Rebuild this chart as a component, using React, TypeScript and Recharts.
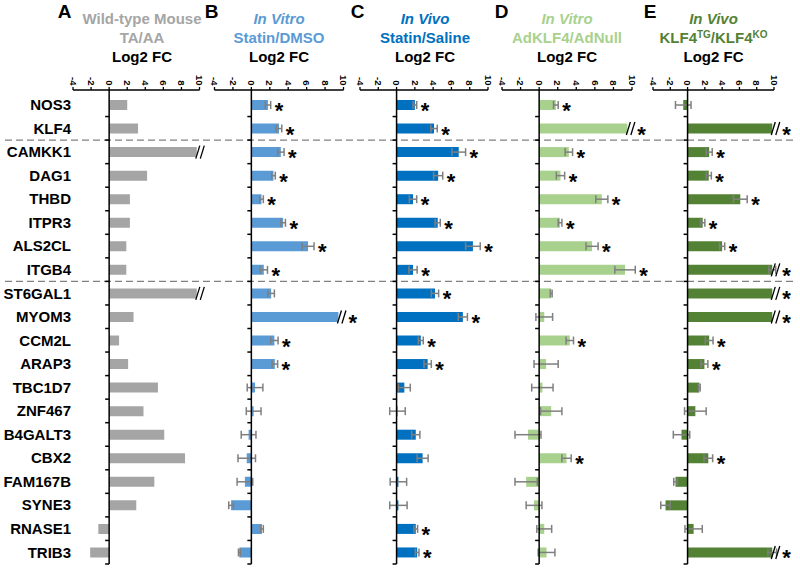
import React from "react";
import { Bar, BarChart, ErrorBar, LabelList, ReferenceLine, XAxis, YAxis } from "recharts";

const FONT = "'Liberation Sans', Arial, sans-serif";
const W = 800;
const H = 569;

const genes = [
  "NOS3", "KLF4", "CAMKK1", "DAG1", "THBD", "ITPR3", "ALS2CL", "ITGB4", "ST6GAL1", "MYOM3",
  "CCM2L", "ARAP3", "TBC1D7", "ZNF467", "B4GALT3", "CBX2", "FAM167B", "SYNE3", "RNASE1", "TRIB3",
];
const groupEnds = ["KLF4", "ITGB4"];
const xTicks = [-4, -2, 0, 2, 4, 6, 8, 10];

// A: wild-type mouse TA/AA
const valsA = [2.0, 3.2, 9.7, 4.2, 2.3, 2.3, 1.9, 1.9, 9.7, 2.7, 1.1, 2.1, 5.4, 3.8, 6.1, 8.4, 5.0, 3.0, -1.2, -2.1];
const brokenA = ["CAMKK1", "ST6GAL1"];

// B: in vitro statin/DMSO
const valsB = [1.8, 3.0, 3.2, 2.4, 1.1, 3.45, 6.15, 1.35, 2.15, 9.45, 2.5, 2.55, 0.4, 0.25, -0.3, -0.5, -0.7, -2.2, 1.15, -1.3];
const errsB = [0.3, 0.3, 0.35, 0.2, 0.2, 0.25, 0.65, 0.4, 0.35, 0, 0.4, 0.3, 0.85, 0.8, 0.8, 0.95, 0.85, 0.25, 0.15, 0.1];
const sigB = ["NOS3", "KLF4", "CAMKK1", "DAG1", "THBD", "ITPR3", "ALS2CL", "ITGB4", "MYOM3", "CCM2L", "ARAP3"];
const brokenB = ["MYOM3"];

// C: in vivo statin/saline
const valsC = [2.0, 4.1, 6.8, 4.55, 1.8, 4.5, 8.35, 1.8, 4.2, 7.25, 2.65, 3.4, 0.85, 0.1, 2.1, 2.85, 0.2, 0.2, 2.1, 2.25];
const errsC = [0.2, 0.35, 0.75, 0.5, 0.4, 0.28, 0.8, 0.45, 0.4, 0.5, 0.27, 0.4, 0.65, 0.85, 0.45, 0.6, 0.9, 0.95, 0.2, 0.2];
const sigC = ["NOS3", "KLF4", "CAMKK1", "DAG1", "THBD", "ITPR3", "ALS2CL", "ITGB4", "ST6GAL1", "MYOM3", "CCM2L", "ARAP3", "RNASE1", "TRIB3"];

// D: in vitro AdKLF4/AdNull
const valsD = [1.8, 9.5, 3.2, 2.3, 6.75, 2.25, 5.7, 9.25, 1.3, 0.55, 3.3, 0.75, 0.35, 1.3, -1.2, 2.95, -1.4, -0.55, 0.55, 0.8];
const errsD = [0.25, 0, 0.4, 0.45, 0.65, 0.2, 0.65, 1.1, 0.1, 0.9, 0.4, 1.3, 1.15, 1.15, 1.4, 0.5, 1.2, 0.85, 0.8, 0.9];
const sigD = ["NOS3", "KLF4", "CAMKK1", "DAG1", "THBD", "ITPR3", "ALS2CL", "ITGB4", "CCM2L", "CBX2"];
const brokenD = ["KLF4"];

// E: in vivo KLF4 TG/KO
const valsE = [-0.5, 9.8, 2.5, 2.45, 6.1, 1.75, 4.0, 9.8, 9.8, 9.8, 2.5, 1.95, 1.36, 0.9, -0.7, 2.4, -1.4, -2.55, 0.7, 9.8];
const errsE = [0.9, 0, 0.35, 0.3, 0.8, 0.25, 0.3, 0.4, 0, 0, 0.45, 0.4, 0.1, 1.25, 0.95, 0.5, 0.2, 0.55, 1.0, 0.5];
const sigE = ["KLF4", "CAMKK1", "DAG1", "THBD", "ITPR3", "ALS2CL", "ITGB4", "ST6GAL1", "MYOM3", "CCM2L", "ARAP3", "CBX2", "TRIB3"];
const brokenE = ["KLF4", "ITGB4", "ST6GAL1", "MYOM3", "TRIB3"];

type Panel = {
  id: string;
  color: string;
  vals: number[];
  errs?: number[];
  sig: string[];
  broken: string[];
  left: number;
  right: number;
};

const panels: Panel[] = [
  { id: "A", color: "#a5a5a5", vals: valsA, sig: [], broken: brokenA, left: 73, right: 199.5 },
  { id: "B", color: "#5b9bd5", vals: valsB, errs: errsB, sig: sigB, broken: brokenB, left: 214.5, right: 343.5 },
  { id: "C", color: "#0070c0", vals: valsC, errs: errsC, sig: sigC, broken: [], left: 360, right: 488 },
  { id: "D", color: "#a9d18e", vals: valsD, errs: errsD, sig: sigD, broken: brokenD, left: 502, right: 632 },
  { id: "E", color: "#548235", vals: valsE, errs: errsE, sig: sigE, broken: brokenE, left: 653, right: 774 },
];

const titles = [
  { letter: "A", lx: 64.5, cx: 142, l1: "Wild-type Mouse", l2: "TA/AA", c: "#a5a5a5", italic: false },
  { letter: "B", lx: 211.5, cx: 279, l1: "In Vitro", l2: "Statin/DMSO", c: "#5b9bd5", italic: true },
  { letter: "C", lx: 357.5, cx: 425, l1: "In Vivo", l2: "Statin/Saline", c: "#0070c0", italic: true },
  { letter: "D", lx: 501.5, cx: 567, l1: "In Vitro", l2: "AdKLF4/AdNull", c: "#a9d18e", italic: true },
  { letter: "E", lx: 650, cx: 713.5, l1: "In Vivo", l2: "", c: "#548235", italic: true },
];

function RotTick(p: any) {
  return (
    <text
      x={p.x}
      y={p.y}
      transform={`rotate(90 ${p.x} ${p.y})`}
      textAnchor="end"
      dy="0.35em"
      fontSize={9.5}
      fontWeight="bold"
      fontFamily={FONT}
      fill="#000"
    >
      {p.payload.value}
    </text>
  );
}

// asterisks and "//" break marks after the bars
function marks(panel: Panel) {
  return (p: any) => {
    const vb = p.viewBox ?? p;
    const i = genes.indexOf(p.value);
    if (i < 0) return null;
    const gene = genes[i];
    const isBroken = panel.broken.includes(gene);
    const isSig = panel.sig.includes(gene);
    if (!isBroken && !isSig) return null;
    const v = panel.vals[i];
    const ppu = vb.width / v;
    const cy = vb.y + vb.height / 2;
    const end = vb.x + vb.width;
    let sx = vb.x + (v + (panel.errs ? panel.errs[i] : 0)) * ppu + 4;
    const out: React.ReactNode[] = [];
    if (isBroken) {
      out.push(<line key="s1" x1={end - 1} y1={cy + 6.5} x2={end + 3} y2={cy - 6.5} stroke="#000" strokeWidth={1.3} />);
      out.push(<line key="s2" x1={end + 3.5} y1={cy + 6.5} x2={end + 7.5} y2={cy - 6.5} stroke="#000" strokeWidth={1.3} />);
      sx = end + 10;
    }
    if (isSig) {
      out.push(
        <text key="ast" x={sx} y={cy + 13} fontSize={22} fontWeight="bold" fontFamily={FONT} fill="#000">
          *
        </text>
      );
    }
    return <g key={`m-${gene}`}>{out}</g>;
  };
}

function PanelChart({ panel, first }: { panel: Panel; first: boolean }) {
  const data = genes.map((gene, i) => ({ gene, v: panel.vals[i], e: panel.errs ? panel.errs[i] : 0 }));
  const ppu = (panel.right - panel.left) / 14;
  const tk = 4 / ppu;
  const zero = panel.left + 4 * ppu;
  const pxToX = (px: number) => (px - zero) / ppu;
  const last = genes[genes.length - 1];
  return (
    <div style={{ position: "absolute", left: 0, top: 0 }}>
      <BarChart
        width={W}
        height={H}
        data={data}
        layout="vertical"
        barSize={10}
        margin={{ top: 60, right: W - panel.right, bottom: 5, left: first ? 0 : panel.left }}
      >
        <XAxis
          type="number"
          orientation="top"
          domain={[-4, 10]}
          ticks={xTicks}
          allowDataOverflow
          height={30}
          tick={<RotTick />}
          tickSize={3}
          tickMargin={1.5}
          interval={0}
          axisLine={{ stroke: "#000", strokeWidth: 1.3 }}
          tickLine={{ stroke: "#000", strokeWidth: 1.3 }}
        />
        <YAxis
          type="category"
          dataKey="gene"
          hide={!first}
          width={first ? panel.left : 0}
          padding={{ top: 3, bottom: 0 }}
          axisLine={false}
          tickLine={false}
          tickSize={0}
          tickMargin={2}
          interval={0}
          tick={{ fontSize: 15, fontWeight: "bold", fill: "#000", fontFamily: FONT }}
        />
        {first &&
          groupEnds.map((g) => (
            <ReferenceLine
              key={`grp-${g}`}
              segment={[{ x: pxToX(5), y: g }, { x: pxToX(797), y: g }]}
              position="end"
              ifOverflow="visible"
              stroke="#808080"
              strokeWidth={1.3}
              strokeDasharray="7 4"
            />
          ))}
        <Bar dataKey="v" fill={panel.color} isAnimationActive={false}>
          {panel.errs && <ErrorBar dataKey="e" direction="x" width={4} stroke="#7f7f7f" strokeWidth={1.5} />}
          <LabelList dataKey="gene" content={marks(panel)} />
        </Bar>
        <ReferenceLine x={0} stroke="#000" strokeWidth={1.5} ifOverflow="visible" />
        {genes.map((g, i) =>
          i === 0 ? null : (
            <ReferenceLine
              key={`tk-${g}`}
              segment={[{ x: -tk, y: g }, { x: 0, y: g }]}
              position="start"
              ifOverflow="visible"
              stroke="#000"
              strokeWidth={1.5}
            />
          )
        )}
        <ReferenceLine
          segment={[{ x: -tk, y: last }, { x: 0, y: last }]}
          position="end"
          ifOverflow="visible"
          stroke="#000"
          strokeWidth={1.5}
        />
      </BarChart>
    </div>
  );
}

function Titles() {
  return (
    <svg width={W} height={H} style={{ position: "absolute", left: 0, top: 0, pointerEvents: "none" }}>
      {titles.map((t) => (
        <g key={t.letter} fontFamily={FONT} fontWeight="bold">
          <text x={t.lx} y={18.3} fontSize={19} textAnchor="middle" fill="#000">
            {t.letter}
          </text>
          <text x={t.cx} y={23.5} fontSize={15} textAnchor="middle" fill={t.c} fontStyle={t.italic ? "italic" : "normal"}>
            {t.l1}
          </text>
          {t.letter === "E" ? (
            <text x={t.cx} y={43} fontSize={15} textAnchor="middle" fill={t.c}>
              KLF4
              <tspan fontSize={10} dy={-5}>TG</tspan>
              <tspan dy={5}>/KLF4</tspan>
              <tspan fontSize={10} dy={-5}>KO</tspan>
            </text>
          ) : (
            <text x={t.cx} y={43} fontSize={15} textAnchor="middle" fill={t.c}>
              {t.l2}
            </text>
          )}
          <text x={t.cx} y={62} fontSize={15} textAnchor="middle" fill="#000">
            Log2 FC
          </text>
        </g>
      ))}
    </svg>
  );
}

export default function App() {
  return (
    <div style={{ position: "fixed", left: 0, top: 0, width: W, height: H, background: "#fff", fontFamily: FONT }}>
      {panels.map((p, i) => (
        <PanelChart key={p.id} panel={p} first={i === 0} />
      ))}
      <Titles />
    </div>
  );
}
